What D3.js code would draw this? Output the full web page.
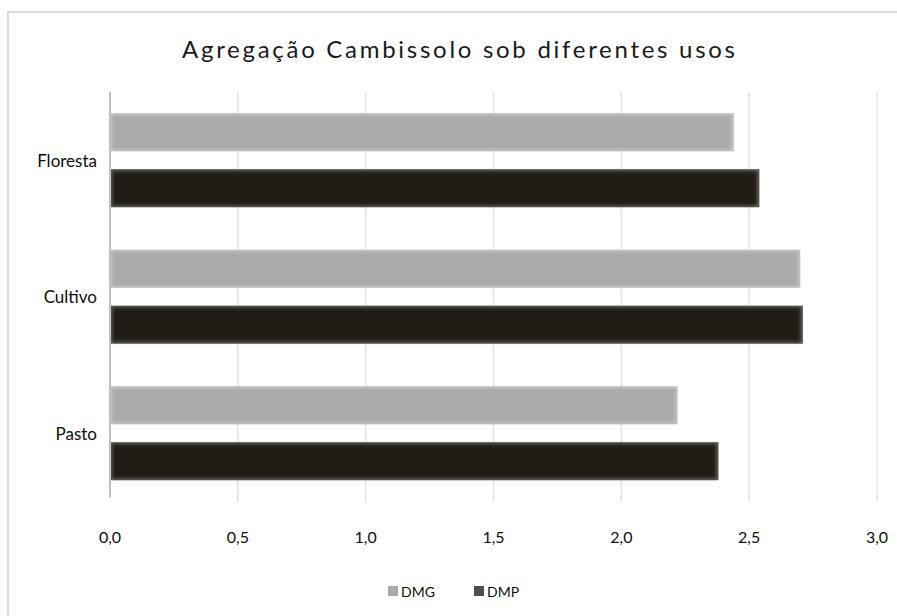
<!DOCTYPE html>
<html>
<head>
<meta charset="utf-8">
<script src="https://cdn.jsdelivr.net/npm/d3@7/dist/d3.min.js"></script>
<style>
  html, body { margin: 0; padding: 0; background: #fff; }
  svg { display: block; }
  text { font-family: Lato, "Open Sans", sans-serif; fill: #0d0d0d; }
</style>
</head>
<body>
<svg id="chart" width="897" height="616"></svg>
<script>
// Mean weight diameter (DMP) and geometric mean diameter (DMG) per land use
const categories = ["Floresta", "Cultivo", "Pasto"];
const seriesNames = ["DMG", "DMP"];
const dmgValues = [2.44, 2.70, 2.22];
const dmpValues = [2.54, 2.71, 2.38];
const xTicks = [0, 0.5, 1, 1.5, 2, 2.5, 3];
const title = "Agregação Cambissolo sob diferentes usos";

const colors = { DMG: "#ababab", DMP: "#221f14" };
const edgeColors = { DMG: "#c2c2c2", DMP: "#5c5b55" };
const legendColors = { DMG: "#ababab", DMP: "#4f4e4a" };

const svg = d3.select("#chart");
const W = 897, H = 616;
const margin = { top: 92, left: 110 };
const plotW = 877 - margin.left;
const plotH = 501.5 - margin.top;

// chart frame
svg.append("rect")
  .attr("x", 8).attr("y", 12)
  .attr("width", W + 10).attr("height", H + 10)
  .attr("fill", "#fff")
  .attr("stroke", "#d9d9d9").attr("stroke-width", 2);

// soft inner shading for the bars
const defs = svg.append("defs");
const f = defs.append("filter").attr("id", "soft")
  .attr("x", "-5%").attr("y", "-20%").attr("width", "110%").attr("height", "140%");
f.append("feGaussianBlur").attr("stdDeviation", 1.5);

const x = d3.scaleLinear().domain([0, 3]).range([margin.left, margin.left + plotW]);
const y0 = d3.scaleBand().domain(categories).range([margin.top, margin.top + plotH]);
const y1 = d3.scaleBand().domain(seriesNames).range([0, y0.bandwidth()]).paddingInner(0.32).paddingOuter(0.38);

// title
svg.append("text")
  .attr("x", 182).attr("y", 58)
  .attr("textLength", 553)
  .attr("lengthAdjust", "spacing")
  .style("font-size", "24px")
  .style("fill", "#1a1a1a")
  .text(title);

// vertical gridlines
svg.append("g")
  .selectAll("line")
  .data(xTicks.filter(d => d > 0))
  .join("line")
  .attr("x1", d => x(d)).attr("x2", d => x(d))
  .attr("y1", margin.top).attr("y2", margin.top + plotH)
  .attr("stroke", "#e3e3e3").attr("stroke-width", 1.5);

// bars
const rows = categories.map((c, i) => ({ cat: c, DMG: dmgValues[i], DMP: dmpValues[i] }));
const groups = svg.append("g").selectAll("g")
  .data(rows)
  .join("g")
  .attr("transform", d => `translate(0,${y0(d.cat)})`);

const bars = groups.selectAll("g.bar")
  .data(d => seriesNames.map(s => ({ key: s, value: d[s] })))
  .join("g").attr("class", "bar");

bars.append("rect")
  .attr("x", x(0) + 1)
  .attr("y", d => y1(d.key))
  .attr("width", d => x(d.value) - x(0) - 1)
  .attr("height", y1.bandwidth())
  .attr("fill", d => edgeColors[d.key]);

bars.append("rect")
  .attr("x", x(0) + 2.5)
  .attr("y", d => y1(d.key) + 2)
  .attr("width", d => x(d.value) - x(0) - 5)
  .attr("height", y1.bandwidth() - 4)
  .attr("fill", d => colors[d.key])
  .attr("filter", "url(#soft)");

// category axis line
svg.append("line")
  .attr("x1", x(0)).attr("x2", x(0))
  .attr("y1", margin.top).attr("y2", margin.top + plotH - 4)
  .attr("stroke", "#bfbfbf").attr("stroke-width", 2);

// category labels
svg.append("g")
  .selectAll("text")
  .data(categories)
  .join("text")
  .attr("x", 97)
  .attr("y", d => y0(d) + y0.bandwidth() / 2 + 6.5)
  .attr("text-anchor", "end")
  .style("font-size", "17px")
  .text(d => d);

// value axis labels
const fmt = d3.format(".1f");
svg.append("g")
  .selectAll("text")
  .data(xTicks)
  .join("text")
  .attr("x", d => x(d))
  .attr("y", 543)
  .attr("text-anchor", "middle")
  .style("font-size", "16px")
  .text(d => fmt(d).replace(".", ","));

// legend
const legendX = { DMG: 388, DMP: 474 };
const lg = svg.append("g").selectAll("g")
  .data(seriesNames)
  .join("g")
  .attr("transform", d => `translate(${legendX[d]},586)`);
lg.append("rect")
  .attr("width", 10).attr("height", 10)
  .attr("fill", d => legendColors[d]);
lg.append("text")
  .attr("x", 13).attr("y", 10.5)
  .style("font-size", "14px")
  .text(d => d);
</script>
</body>
</html>
